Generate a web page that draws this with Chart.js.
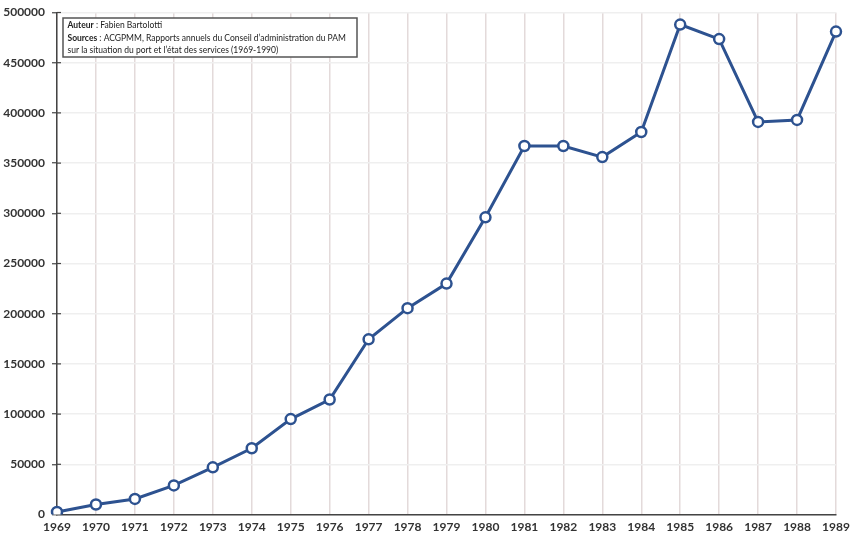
<!DOCTYPE html>
<html>
<head>
<meta charset="utf-8">
<script src="https://cdn.jsdelivr.net/npm/chart.js@4/dist/chart.umd.min.js"></script>
<style>
html,body{margin:0;padding:0;background:#fff;}
#wrap{width:850px;height:536px;position:relative;}
</style>
</head>
<body>
<div id="wrap"><canvas id="c" width="850" height="536"></canvas></div>
<script>
const years = ['1969','1970','1971','1972','1973','1974','1975','1976','1977','1978','1979','1980','1981','1982','1983','1984','1985','1986','1987','1988','1989'];
const values = [2500,10000,15500,29000,47000,66000,95000,114500,174500,205500,230000,296000,367000,367000,356000,381000,488000,473500,391000,393000,481000];
const yMin = 0, yMax = 500000, yStep = 50000;
const noteLines = [
  [['Auteur', true], [' : Fabien Bartolotti', false]],
  [['Sources', true], [' : ACGPMM, Rapports annuels du Conseil d\u2019administration du PAM', false]],
  [['sur la situation du port et l\u2019état des services (1969-1990)', false]]
];

const FONT = 'Lato, "Open Sans", sans-serif';
const noteBox = {
  id: 'noteBox',
  afterDraw(chart) {
    const ctx = chart.ctx, a = chart.chartArea;
    const ys = chart.scales.y;
    ctx.save();
    ctx.strokeStyle = '#444';
    ctx.lineWidth = 1.2;
    ys.ticks.forEach(t => {
      const py = ys.getPixelForValue(t.value);
      if (t.value === 0) return;
      ctx.beginPath();
      ctx.moveTo(a.left, py);
      ctx.lineTo(a.left + 4, py);
      ctx.stroke();
    });
    const x = 63, y = 18, w = 294, h = 39;
    ctx.fillStyle = '#fff';
    ctx.fillRect(x, y, w, h);
    ctx.strokeStyle = '#555';
    ctx.lineWidth = 1.5;
    ctx.strokeRect(x, y, w, h);
    ctx.textBaseline = 'middle';
    ctx.fillStyle = '#222';
    noteLines.forEach((parts, i) => {
      let tx = x + 4.5;
      const ty = y + 7.5 + i * 12.3;
      parts.forEach(([txt, bold]) => {
        ctx.font = (bold ? 'bold ' : '') + '8.5px ' + FONT;
        ctx.fillText(txt, tx, ty);
        tx += ctx.measureText(txt).width;
      });
    });
    ctx.restore();
  }
};

new Chart(document.getElementById('c'), {
  type: 'line',
  data: {
    labels: years,
    datasets: [{
      data: values,
      borderColor: '#2d5290',
      borderWidth: 3,
      pointRadius: 5,
      pointBorderWidth: 2.5,
      pointBackgroundColor: '#fff',
      pointBorderColor: '#2d5290',
      tension: 0,
      fill: false
    }]
  },
  options: {
    responsive: false,
    animation: false,
    layout: { padding: { top: 12.5, right: 14, bottom: 0, left: 0 } },
    plugins: { legend: { display: false }, tooltip: { enabled: false } },
    scales: {
      x: {
        offset: false,
        afterFit(s) { s.height = 21.5; s.paddingLeft = 0; s.paddingRight = 0; },
        grid: { color: '#e3dada', lineWidth: 1.5, drawTicks: false },
        border: { color: '#444', width: 1.5 },
        ticks: { color: '#333', font: { family: FONT, size: 12, weight: 'bold' }, padding: 5, maxRotation: 0, autoSkip: false }
      },
      y: {
        min: yMin, max: yMax,
        afterFit(s) { s.width = 57; s.paddingTop = 0; s.paddingBottom = 0; },
        grid: { color: '#efefef', lineWidth: 1.5, tickColor: '#444', tickLength: 5, tickWidth: 1.2 },
        border: { color: '#444', width: 1.5 },
        ticks: { stepSize: yStep, color: '#333', font: { family: FONT, size: 12, weight: 'bold' }, padding: 7,
                 callback: v => String(v) }
      }
    }
  },
  plugins: [noteBox]
});
</script>
</body>
</html>
